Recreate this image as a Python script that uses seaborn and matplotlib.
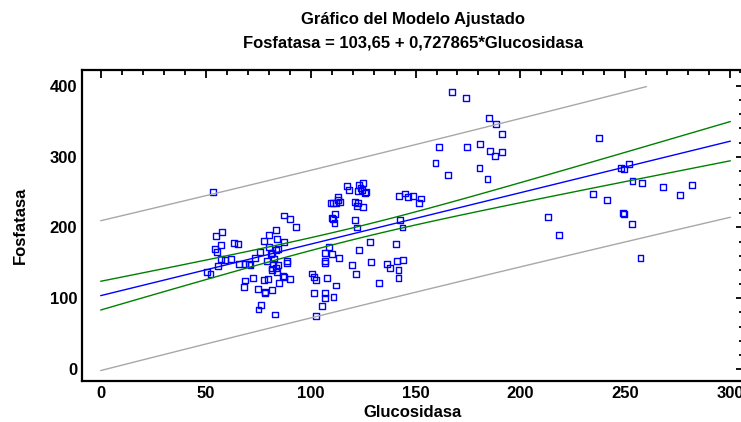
import numpy as np
import pandas as pd
import matplotlib
matplotlib.use('Agg')
import matplotlib.pyplot as plt
import seaborn as sns
from matplotlib.ticker import MultipleLocator

# Fitted model from the title
intercept = 103.65
slope = 0.727865
t_crit = 1.976  # approx t(0.975, n-2)

gluc = [53.6, 55.0, 57.7, 54.5, 55.3, 57.3, 57.3, 59.2, 62.1, 63.4, 65.3, 66.1, 56.0, 50.7, 52.3,
        68.7, 70.7, 71.4, 73.4, 75.8, 79.1, 81.8, 82.5, 81.8, 82.2, 77.9, 80.1, 83.4, 80.0,
        68.7, 68.2, 72.6, 78.0, 79.6, 74.9, 78.3, 78.5, 81.8, 76.4, 75.2, 83.0,
        87.4, 90.3, 93.0, 84.2, 87.4, 84.4, 83.6, 81.0, 88.7, 88.7, 84.3, 83.5, 81.7, 84.1,
        86.9, 87.4, 90.3, 85.0,
        100.7, 101.6, 102.5, 107.9, 106.8, 106.8, 108.7, 106.7, 110.3, 113.6, 112.2, 101.8,
        107.0, 107.0, 110.9, 105.6, 102.6,
        121.3, 122.3, 128.4, 123.0, 119.9, 121.7, 128.9, 132.6, 136.6, 137.8, 140.5, 141.3,
        144.0, 141.9, 141.9, 142.4, 143.8,
        142.3, 145.0, 146.6, 148.8, 152.5, 151.5,
        117.3, 118.4, 123.0, 125.1, 123.8, 124.5, 122.5, 126.4, 126.1,
        113.2, 114.0, 113.0, 110.5, 109.5, 112.0,
        121.2, 122.8, 122.1, 124.8,
        111.8, 110.3, 110.8, 111.4,
        167.5, 174.2, 184.9, 188.5, 191.4, 161.3, 174.7, 180.9, 185.5, 187.7, 191.4, 159.5,
        180.5, 165.3, 184.3,
        213.1, 237.6, 247.9, 249.3, 251.5, 253.4, 257.7, 267.8, 281.6, 276.2, 234.6, 241.1,
        218.3, 248.7, 249.3, 253.3, 257.2]
fosf = [250, 188, 194, 170, 165, 175, 155, 154, 155, 178, 177, 149, 146, 137, 134,
        148, 149, 147, 157, 165, 153, 164, 156, 142, 148, 181, 189, 197, 173,
        125, 116, 129, 126, 127, 113, 107, 109, 112, 91, 84, 77,
        217, 212, 201, 184, 179, 170, 168, 162, 152, 150, 147, 143, 140, 137.5,
        131, 130, 127, 121,
        135, 130, 126, 129, 153, 150, 173, 164, 163, 156.5, 118, 107,
        107, 100, 102, 89, 75,
        211, 200, 180, 168, 147, 134, 151, 122, 148, 143, 177, 152,
        154, 140, 129, 210, 200,
        244, 248, 243, 245, 241, 235,
        259, 253, 260, 262.5, 256, 253, 251, 250, 249,
        243.5, 236.5, 239, 234, 234, 234.6,
        236.5, 235, 230, 228.6,
        219, 213.4, 212.5, 206.4,
        391.5, 382.6, 354.3, 346.7, 331.7, 313.3, 313.3, 317.6, 308, 301, 306.7, 291.6,
        283.6, 273.8, 268.1,
        214.8, 326, 283.7, 283.2, 289.3, 265.3, 262.9, 257.2, 260, 245.5, 247.8, 238.4,
        189, 220, 218.7, 205.4, 156.5]

df = pd.DataFrame({'Glucosidasa': gluc, 'Fosfatasa': fosf})

# Regression bands (confidence / prediction) around the fitted line
x = np.asarray(gluc)
y = np.asarray(fosf)
n = len(x)
xbar = x.mean()
sxx = ((x - xbar) ** 2).sum()
s = np.sqrt(((y - (intercept + slope * x)) ** 2).sum() / (n - 2))

grid = np.linspace(0, 300, 61)
fit = intercept + slope * grid
se_mean = s * np.sqrt(1 / n + (grid - xbar) ** 2 / sxx)
se_pred = s * np.sqrt(1 + 1 / n + (grid - xbar) ** 2 / sxx)
bands = pd.DataFrame({
    'x': grid,
    'fit': fit,
    'conf_lo': fit - t_crit * se_mean,
    'conf_hi': fit + t_crit * se_mean,
    'pred_lo': fit - t_crit * se_pred,
    'pred_hi': fit + t_crit * se_pred,
})
upper_pred = bands[bands['pred_hi'] <= 400]

sns.set_style("white")
plt.rcParams['font.family'] = ['Liberation Sans', 'DejaVu Sans']
plt.rcParams['text.color'] = 'black'
plt.rcParams['axes.labelcolor'] = 'black'
plt.rcParams['xtick.color'] = 'black'
plt.rcParams['ytick.color'] = 'black'

fig = plt.figure(figsize=(7.41, 4.22), dpi=100)
ax = fig.add_axes([82 / 741, 41 / 422, 662 / 741, 311 / 422])

sns.lineplot(data=upper_pred, x='x', y='pred_hi', ax=ax, color='#a8a8a8', lw=1, estimator=None, sort=False)
sns.lineplot(data=bands, x='x', y='pred_lo', ax=ax, color='#a8a8a8', lw=1, estimator=None, sort=False)
sns.lineplot(data=bands, x='x', y='conf_hi', ax=ax, color='#008000', lw=1, estimator=None, sort=False)
sns.lineplot(data=bands, x='x', y='conf_lo', ax=ax, color='#008000', lw=1, estimator=None, sort=False)
sns.lineplot(data=bands, x='x', y='fit', ax=ax, color='#0000ff', lw=1, estimator=None, sort=False)

sns.scatterplot(data=df, x='Glucosidasa', y='Fosfatasa', ax=ax, marker='s', s=18,
                fc='none', ec='#0000ff', linewidth=1)

ax.set_xlim(-8.9, 306.5)
ax.set_ylim(-17, 422.6)
ax.xaxis.set_major_locator(MultipleLocator(50))
ax.xaxis.set_minor_locator(MultipleLocator(10))
ax.yaxis.set_major_locator(MultipleLocator(100))
ax.yaxis.set_minor_locator(MultipleLocator(20))
ax.tick_params(which='both', direction='in', top=True, right=True, width=1.3,
               labelsize=12, colors='black')
ax.tick_params(which='major', length=6)
ax.tick_params(which='minor', length=3.5)
for lab in ax.get_xticklabels() + ax.get_yticklabels():
    lab.set_fontweight('bold')
for sp in ax.spines.values():
    sp.set_linewidth(1.6)
    sp.set_color('black')

ax.set_xlabel('Glucosidasa', fontsize=12, fontweight='bold', labelpad=3, color='black')
ax.set_ylabel('Fosfatasa', fontsize=12, fontweight='bold', labelpad=16, color='black')
ax.set_title('Gráfico del Modelo Ajustado\nFosfatasa = 103,65 + 0,727865*Glucosidasa',
             fontsize=12, fontweight='bold', linespacing=1.75, pad=16, color='black')

fig.savefig('out.png', dpi=100)
